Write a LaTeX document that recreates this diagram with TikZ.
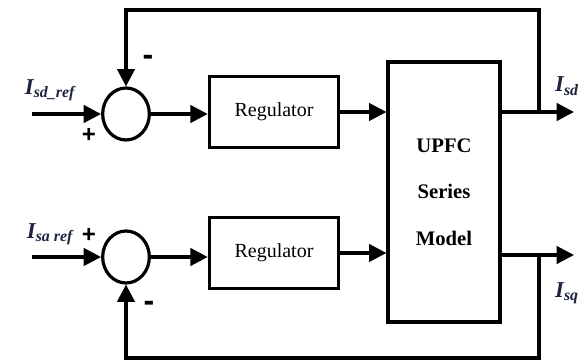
\documentclass[tikz,border=0pt]{standalone}
\usepackage{fontspec}
\setmainfont{Liberation Serif}
\newfontfamily\signfont{Liberation Sans}
\usetikzlibrary{shapes.geometric,arrows.meta}
\definecolor{labelblue}{RGB}{28,36,64}

\begin{document}
\begin{tikzpicture}[x=0.75pt,y=-0.75pt]
		% Define styles for blocks, summing points and signal arrows
		\tikzset{blk/.style={draw, line width=2.4pt, minimum width=97pt, minimum height=53pt, font=\fontsize{15}{17}\selectfont},
			summer/.style={draw, ellipse, line width=2.4pt, minimum width=35pt, minimum height=39pt, inner sep=0pt},
			sig/.style={line width=2.4pt, line join=miter, -{Triangle[length=13pt,width=13pt]}},
			lbl/.style={font=\fontsize{17}{19}\bfseries\itshape\selectfont, text=labelblue, inner sep=0pt},
			sgn/.style={font=\signfont\bfseries\fontsize{18}{18}\selectfont, inner sep=0pt}}
		\useasboundingbox (0,0) rectangle (582,363);
		
		% Draw the summing points and the blocks
		\node[summer] (sd) at (126,114) {};
		\node[summer] (sq) at (126,257) {};
		\node[blk] (regd) at (274,112) {Regulator};
		\node[blk] (regq) at (274,253) {Regulator};
		\node[blk, minimum width=84pt, minimum height=195pt, align=center, font=\fontsize{15.5}{35}\bfseries\selectfont] (upfc) at (444,192) {UPFC\\Series\\Model};
		
		% Free ends of the input, output and feedback lines
		\coordinate (ind) at (32,114);
		\coordinate (inq) at (32,257);
		\coordinate (outd) at (574,112);
		\coordinate (outq) at (574,255);
		\coordinate (fbd) at (539,112);
		\coordinate (fbq) at (539,255);
		\coordinate (topd) at (539,10);
		\coordinate (botq) at (539,358);
		
		% Draw the forward path
		\draw[sig] (ind) -- (sd.west);
		\draw[sig] (inq) -- (sq.west);
		\draw[sig] (sd.east) -- (sd.east -| regd.west);
		\draw[sig] (sq.east) -- (sq.east -| regq.west);
		\draw[sig] (regd.east) -- (regd.east -| upfc.west);
		\draw[sig] (regq.east) -- (regq.east -| upfc.west);
		\draw[sig] (upfc.east |- outd) -- (outd);
		\draw[sig] (upfc.east |- outq) -- (outq);
		
		% Draw the feedback loops
		\draw[sig] (fbd) -- (topd) -| (sd.north);
		\draw[sig] (fbq) -- (botq) -| (sq.south);
		
		% Add labels
		\node[lbl] (lsdref) at (50,90) {I\textsubscript{sd\_ref}};
		\node[lbl] (lsqref) at (50,234) {I\textsubscript{sa ref}};
		\node[lbl] (lsd) at (567,86) {I\textsubscript{sd}};
		\node[lbl] (lsq) at (567,293) {I\textsubscript{sq}};
		
		% Add the signs of the summing points
		\node[sgn] (pd) at (89,135) {+};
		\node[sgn, font=\signfont\bfseries\fontsize{24}{24}\selectfont] (md) at (148,60) {-};
		\node[sgn] (pq) at (89,235) {+};
		\node[sgn, font=\signfont\bfseries\fontsize{24}{24}\selectfont] (mq) at (149,306) {-};
	\end{tikzpicture}
\end{document}
